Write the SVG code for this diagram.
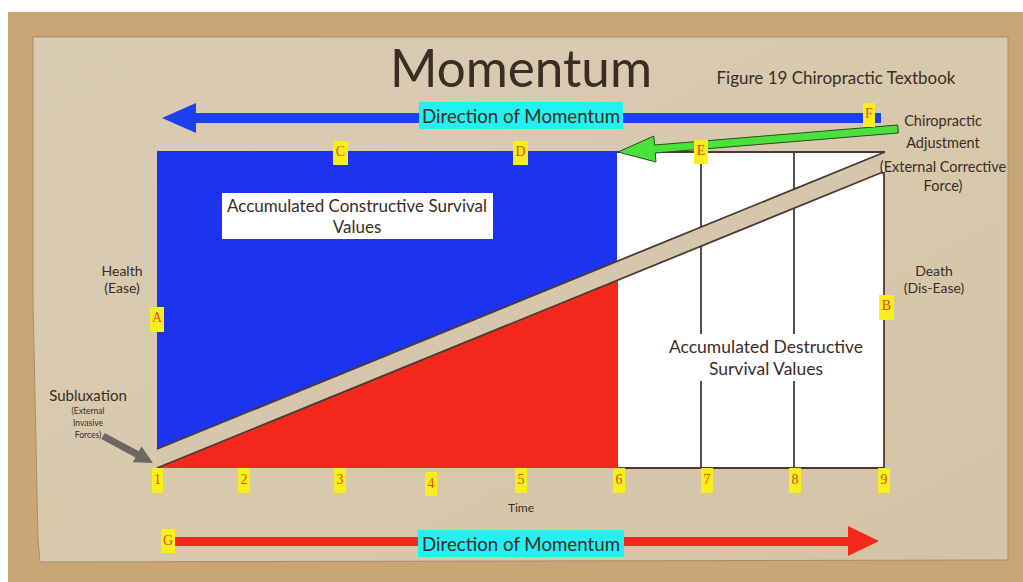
<svg xmlns="http://www.w3.org/2000/svg" width="1023" height="582" viewBox="0 0 1023 582">
<defs>
<linearGradient id="paper" x1="0" y1="0" x2="1" y2="1">
<stop offset="0" stop-color="#d9ccb4"/>
<stop offset="0.5" stop-color="#d8c9ad"/>
<stop offset="1" stop-color="#d4c3a5"/>
</linearGradient>
<style>
.t{font-family:"Lato","Liberation Sans",sans-serif;fill:#3b2c25;text-anchor:middle}
.lbl rect{fill:#f7ef1c}
.lbl text{font-family:"Liberation Serif",serif;font-size:14px;fill:#e8481c;text-anchor:middle}
.ln{stroke:#4a3a34;stroke-width:1.8;fill:none}
.cyan{fill:#22f0f2}
</style>
</defs>
<rect x="0" y="0" width="1023" height="582" fill="#ffffff"/>
<rect x="8" y="12" width="1015" height="570" fill="#c8a675"/>
<polygon points="33,37 1008,37 1008,560 40,562 38,540 33,300" fill="url(#paper)" stroke="#a88e68" stroke-width="1"/>

<g id="title"><text class="t" x="521" y="87" font-size="53" textLength="262" lengthAdjust="spacingAndGlyphs">Momentum</text></g>
<g id="subtitle"><text class="t" x="836" y="84" font-size="17">Figure 19 Chiropractic Textbook</text></g>

<g id="connectors">
<polygon id="blue-arrow" points="162,118 196,103 196,113 881,113 881,123 196,123 196,133" fill="#1c3ff0"/>
<polygon id="red-arrow" points="879,541 848,526 848,537 168,537 168,546 848,546 848,556" fill="#f4281a"/>
<polygon id="gray-arrow" points="101.3,439.1 104.7,432.9 138.9,451.3 141.5,446.5 153,463 132.9,462.3 135.5,457.5" fill="#6e6760"/>
</g>

<g id="direction-top">
<rect class="cyan" x="419" y="102" width="204" height="27"/>
<text class="t" x="521" y="123" font-size="19" textLength="198" lengthAdjust="spacingAndGlyphs">Direction of Momentum</text>
</g>
<g id="direction-bottom">
<rect class="cyan" x="418" y="530" width="206" height="27"/>
<text class="t" x="521" y="551" font-size="19" textLength="198" lengthAdjust="spacingAndGlyphs">Direction of Momentum</text>
</g>

<g id="chart">
<rect x="617" y="152" width="267" height="316" fill="#ffffff"/>
<polygon points="157,151 617,151 617,261.3 157,449" fill="#1c34f0"/>
<polygon points="157,468 618,468 618,280 157,468" fill="#f2281a"/>
<line class="ln" x1="617" y1="152" x2="885" y2="152"/>
<line class="ln" x1="701" y1="152" x2="701" y2="468"/>
<line class="ln" x1="794" y1="152" x2="794" y2="468"/>
<line class="ln" x1="884" y1="172" x2="884" y2="468"/>
<line class="ln" x1="618" y1="468" x2="884" y2="468"/>
<polygon points="157,449 885,152 883,172 157,468" fill="#d6c7ac"/>
<line class="ln" x1="157" y1="449" x2="885" y2="152"/>
<line class="ln" x1="157" y1="468" x2="883" y2="172"/>
</g>

<g id="constructive">
<rect x="222" y="193" width="271" height="46" fill="#ffffff"/>
<text class="t" x="357" y="212" font-size="17">Accumulated Constructive Survival</text>
<text class="t" x="357" y="233" font-size="17">Values</text>
</g>
<g id="destructive">
<rect x="665" y="334" width="203" height="47" fill="#ffffff"/>
<text class="t" x="766" y="353" font-size="17.5">Accumulated Destructive</text>
<text class="t" x="766" y="375" font-size="17.5">Survival Values</text>
</g>

<g id="adjustment-arrow">
<polygon points="618,152 653.8,136 654.6,145 897.7,125 898.3,133 655.2,153 656,162" fill="#48e23a" stroke="#2c4a22" stroke-width="1"/>
</g>

<g id="health"><text class="t" x="122" y="276" font-size="14">Health</text><text class="t" x="122" y="293" font-size="14">(Ease)</text></g>
<g id="death"><text class="t" x="934" y="276" font-size="14">Death</text><text class="t" x="934" y="293" font-size="14">(Dis-Ease)</text></g>
<g id="subluxation">
<text class="t" x="88" y="401" font-size="15">Subluxation</text>
<text class="t" x="88" y="414" font-size="8.5">(External</text>
<text class="t" x="88" y="426" font-size="8.5">Invasive</text>
<text class="t" x="88" y="438" font-size="8.5">Forces)</text>
</g>
<g id="chiropractic">
<text class="t" x="943" y="126" font-size="14.5">Chiropractic</text>
<text class="t" x="943" y="148" font-size="14.5">Adjustment</text>
<text class="t" x="943" y="172" font-size="14.5">(External Corrective</text>
<text class="t" x="943" y="191" font-size="14.5">Force)</text>
</g>
<g id="time"><text class="t" x="521" y="512" font-size="12">Time</text></g>

<g id="labels" class="lbl">
<g id="lbl-F"><rect x="863" y="103" width="12" height="24"/><text x="869" y="118">F</text></g>
<g id="lbl-C"><rect x="333" y="141" width="15" height="24"/><text x="340.5" y="156">C</text></g>
<g id="lbl-D"><rect x="513" y="141" width="15" height="24"/><text x="520.5" y="156">D</text></g>
<g id="lbl-E"><rect x="694" y="140" width="14" height="24"/><text x="701" y="155">E</text></g>
<g id="lbl-A"><rect x="150" y="307" width="14" height="25"/><text x="157" y="322">A</text></g>
<g id="lbl-B"><rect x="879" y="295" width="15" height="25"/><text x="886.5" y="310">B</text></g>
<g id="lbl-G"><rect x="161" y="529" width="14" height="24"/><text x="168" y="545">G</text></g>
<g id="lbl-1"><rect x="152" y="468" width="11" height="25"/><text x="157.5" y="484">1</text></g>
<g id="lbl-2"><rect x="238" y="468" width="12" height="25"/><text x="244" y="484">2</text></g>
<g id="lbl-3"><rect x="334" y="468" width="12" height="25"/><text x="340" y="484">3</text></g>
<g id="lbl-4"><rect x="425" y="472" width="12" height="24"/><text x="431" y="488">4</text></g>
<g id="lbl-5"><rect x="515" y="468" width="12" height="25"/><text x="521" y="484">5</text></g>
<g id="lbl-6"><rect x="613" y="468" width="12" height="25"/><text x="619" y="484">6</text></g>
<g id="lbl-7"><rect x="701" y="468" width="12" height="25"/><text x="707" y="484">7</text></g>
<g id="lbl-8"><rect x="789" y="468" width="12" height="25"/><text x="795" y="484">8</text></g>
<g id="lbl-9"><rect x="878" y="468" width="12" height="25"/><text x="884" y="484">9</text></g>
</g>
</svg>
